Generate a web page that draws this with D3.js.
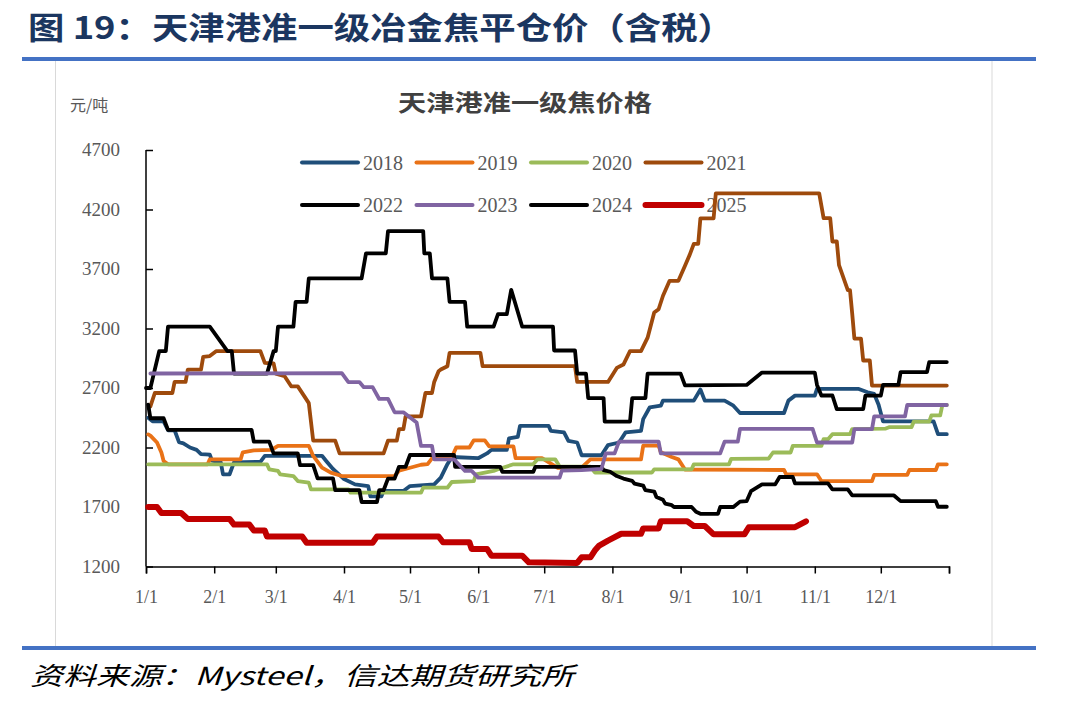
<!DOCTYPE html>
<html><head><meta charset="utf-8">
<script src="https://cdn.jsdelivr.net/npm/d3@7"></script>
<style>body{margin:0;background:#fff}</style>
</head><body>
<svg id="c" width="1086" height="705"></svg>
<script>
// ---- data ----
const years = ["2018","2019","2020","2021","2022","2023","2024","2025"];
const yTicks = [1200,1700,2200,2700,3200,3700,4200,4700];
const xTickLabels = ["1/1","2/1","3/1","4/1","5/1","6/1","7/1","8/1","9/1","10/1","11/1","12/1",""];
const monthStartDays = [0,31,59,90,120,151,181,212,243,273,304,334,365];
// [day of year (0 = 1/1), price yuan/ton]
const s2018 = [[1,2450],[3,2420],[8,2420],[10,2345],[13,2345],[15,2245],[17,2235],[20,2200],[23,2180],[25,2145],[29,2140],[30,2090],[34,2075],[35,1975],[38,1975],[40,2075],[52,2080],[54,2130],[80,2130],[82,2085],[85,2020],[90,1935],[95,1890],[101,1876],[102,1790],[107,1790],[108,1835],[117,1835],[120,1876],[131,1890],[134,1947],[137,2060],[139,2120],[151,2110],[155,2150],[157,2180],[164,2180],[165,2277],[169,2290],[170,2382],[183,2382],[184,2340],[190,2327],[192,2256],[196,2242],[198,2135],[207,2135],[210,2220],[215,2242],[218,2327],[225,2340],[226,2439],[229,2538],[234,2551],[235,2594],[249,2594],[252,2687],[254,2594],[263,2594],[267,2551],[270,2490],[290,2490],[292,2594],[295,2636],[304,2636],[305,2692],[324,2692],[328,2664],[331,2650],[333,2560],[335,2420],[358,2420],[360,2312],[364,2312]];
const s2019 = [[1,2310],[2,2300],[5,2242],[7,2158],[8,2087],[10,2059],[28,2059],[29,2100],[43,2100],[44,2160],[49,2175],[57,2180],[60,2214],[74,2214],[76,2129],[80,2031],[84,1989],[89,1960],[113,1960],[115,2005],[120,2030],[125,2055],[128,2060],[130,2108],[139,2117],[141,2200],[147,2200],[149,2260],[154,2260],[156,2210],[167,2210],[168,2110],[180,2110],[187,2030],[198,2030],[202,2100],[225,2100],[226,2215],[233,2215],[234,2160],[239,2120],[242,2100],[245,2015],[290,2011],[291,1975],[305,1975],[307,1918],[330,1918],[331,1970],[346,1970],[347,2011],[359,2011],[360,2059],[364,2059]];
const s2020 = [[1,2059],[55,2059],[56,2017],[60,2003],[61,1974],[67,1960],[69,1918],[74,1904],[75,1848],[92,1848],[93,1820],[125,1820],[126,1862],[137,1862],[139,1910],[149,1918],[150,1975],[158,2003],[160,2017],[167,2059],[176,2059],[178,2101],[186,2101],[188,2040],[202,2040],[204,1990],[230,1990],[231,2017],[248,2017],[249,2059],[265,2059],[266,2105],[283,2107],[285,2158],[293,2158],[294,2214],[307,2214],[308,2270],[310,2270],[312,2312],[320,2312],[321,2355],[336,2358],[338,2372],[348,2372],[349,2418],[356,2418],[357,2470],[361,2470],[362,2558],[364,2558]];
const s2021 = [[2,2545],[4,2658],[12,2658],[13,2751],[18,2751],[19,2855],[25,2855],[26,2962],[29,2968],[32,3010],[52,3010],[54,2911],[58,2906],[59,2821],[63,2799],[66,2714],[69,2714],[72,2630],[74,2573],[76,2258],[86,2258],[88,2151],[108,2151],[110,2258],[114,2258],[115,2354],[117,2354],[118,2461],[125,2461],[127,2658],[130,2658],[131,2751],[133,2841],[134,2855],[137,2883],[138,2996],[152,2996],[153,2883],[195,2883],[196,2751],[210,2751],[214,2869],[217,2897],[220,3010],[225,3010],[228,3123],[231,3334],[233,3362],[235,3475],[238,3601],[242,3601],[245,3728],[247,3813],[249,3911],[251,3911],[252,4125],[258,4125],[259,4335],[306,4335],[308,4128],[311,4128],[312,3931],[314,3931],[315,3733],[319,3523],[320,3523],[321,3326],[322,3115],[325,3115],[326,2931],[329,2931],[330,2720],[364,2720]];
const s2022 = [[0,2700],[2,2700],[6,3010],[9,3010],[10,3215],[29,3215],[37,3010],[39,3010],[40,2821],[55,2821],[58,3010],[59,3010],[60,3215],[67,3215],[68,3424],[73,3424],[74,3621],[98,3621],[100,3832],[109,3832],[110,4018],[126,4018],[126.5,3832],[129,3832],[130,3621],[137,3621],[138,3424],[145,3424],[146,3215],[158,3215],[160,3320],[164,3320],[166,3525],[171,3215],[185,3215],[185.5,3015],[195,3015],[196,2821],[200,2821],[201,2615],[208,2615],[208.5,2418],[220,2418],[221,2615],[227,2615],[228,2821],[243,2821],[245,2722],[273,2726],[280,2830],[304,2830],[305,2726],[307,2637],[312,2637],[314,2523],[326,2523],[327,2636],[334,2636],[335,2726],[342,2726],[343,2833],[355,2833],[356,2918],[364,2918]];
const s2023 = [[2,2822],[89,2825],[92,2750],[97,2750],[99,2707],[103,2707],[106,2608],[110,2608],[113,2496],[117,2496],[123,2411],[125,2214],[130,2214],[131,2101],[140,2101],[145,2003],[148,2003],[151,1947],[188,1947],[189,2005],[198,2010],[207,2020],[209,2151],[213,2151],[215,2249],[233,2249],[234,2151],[261,2151],[263,2249],[269,2249],[270,2357],[303,2357],[305,2242],[321,2242],[322,2355],[330,2355],[331,2462],[345,2462],[346,2557],[364,2557]];
const s2024 = [[1,2560],[2,2446],[8,2446],[10,2348],[48,2348],[49,2249],[56,2249],[58,2150],[69,2150],[70,2052],[76,2052],[78,1940],[85,1940],[86,1841],[97,1841],[98,1742],[105,1742],[106,1841],[108,1841],[110,1939],[113,1939],[115,2038],[118,2038],[120,2137],[140,2137],[140.5,2038],[161,2038],[162,1995],[176,1995],[177,2038],[207,2038],[208,2010],[211,1996],[214,1960],[217,1939],[221,1920],[222,1897],[226,1880],[227,1841],[231,1830],[232,1784],[235,1760],[236,1728],[239,1715],[240,1700],[248,1700],[250,1660],[252,1643],[260,1643],[261,1700],[267,1700],[270,1745],[273,1749],[275,1833],[280,1890],[286,1890],[288,1952],[294,1952],[295,1898],[310,1898],[312,1848],[319,1848],[321,1797],[340,1797],[343,1749],[359,1749],[360,1702],[364,1702]];
const s2025 = [[1,1700],[5,1700],[7,1650],[16,1650],[19,1600],[38,1600],[40,1552],[47,1552],[49,1503],[54,1503],[55,1452],[71,1452],[73,1400],[103,1400],[105,1452],[133,1452],[135,1404],[147,1404],[148,1348],[155,1348],[157,1291],[171,1291],[174,1235],[196,1230],[198,1277],[202,1277],[204,1334],[206,1376],[210,1418],[216,1475],[225,1475],[226,1520],[233,1520],[234,1580],[246,1580],[249,1540],[254,1540],[258,1470],[272,1470],[274,1530],[295,1530],[300,1580]];
const seriesData = [s2018,s2019,s2020,s2021,s2022,s2023,s2024,s2025];
const colors = ["#1F4E79","#E97217","#9BBB59","#9E4A0C","#000000","#8064A2","#000000","#C00000"];
const widths = [3.8,3.8,3.8,3.8,3.8,3.8,3.8,6];

// ---- drawing ----
const svg = d3.select("#c");
const base = Date.UTC(2021,0,1);
const toDate = d => new Date(base + d*864e5);
const x = d3.scaleUtc().domain([toDate(0), toDate(365)]).range([146, 949]);
const y = d3.scaleLinear().domain([1200, 4700]).range([566.5, 150]);
const serif = "'Liberation Serif','Times New Roman',serif";
const cjk = "'Noto Sans CJK SC','Noto Sans CJK JP',sans-serif";

// page title and rules
svg.append("text").attr("x",28).attr("y",39).attr("font-family",cjk).attr("font-weight",700)
  .attr("font-size",31).attr("fill","#1B3660").attr("textLength",706).attr("lengthAdjust","spacingAndGlyphs")
  .text("图 19：天津港准一级冶金焦平仓价（含税）");
svg.append("rect").attr("x",55.5).attr("y",60).attr("width",936.5).attr("height",588)
  .attr("fill","none").attr("stroke","#D9D9D9").attr("stroke-width",1);
svg.append("rect").attr("x",22).attr("y",57).attr("width",1014).attr("height",4).attr("fill","#4472C4");
svg.append("rect").attr("x",22).attr("y",646).attr("width",1014).attr("height",4).attr("fill","#4472C4");
svg.append("text").attr("x",30).attr("y",685).attr("font-family",cjk).attr("font-style","italic")
  .attr("font-size",25).attr("fill","#000").attr("textLength",544).attr("lengthAdjust","spacingAndGlyphs")
  .text("资料来源：Mysteel，信达期货研究所");

// chart title & unit
svg.append("text").attr("x",398).attr("y",111).attr("font-family",cjk).attr("font-weight",700)
  .attr("font-size",23).attr("fill","#404040").attr("textLength",254).attr("lengthAdjust","spacingAndGlyphs")
  .text("天津港准一级焦价格");
svg.append("text").attr("x",70).attr("y",111).attr("font-family",cjk)
  .attr("font-size",16).attr("fill","#595959").text("元/吨");

// axes
const yAxis = svg.append("g").attr("transform","translate(146,0)")
  .call(d3.axisRight(y).tickValues(yTicks).tickSize(7).tickFormat(""));
yAxis.select(".domain").attr("stroke","#000").attr("stroke-width",1.5).attr("d","M0,150V566.5");
yAxis.selectAll(".tick line").attr("stroke","#000").attr("stroke-width",1.5);
svg.append("g").selectAll("text").data(yTicks).join("text")
  .attr("x",120).attr("y",d=>y(d)+6).attr("text-anchor","end")
  .attr("font-family",serif).attr("font-size",19).attr("fill","#595959").text(d=>d);

const xAxis = svg.append("g").attr("transform","translate(0,566.5)")
  .call(d3.axisBottom(x).tickValues(monthStartDays.map(toDate)).tickSizeOuter(0).tickSize(7)
    .tickFormat((d,i)=>xTickLabels[i]));
xAxis.select(".domain").attr("stroke","#000").attr("stroke-width",1.5);
xAxis.selectAll(".tick line").attr("stroke","#000").attr("stroke-width",1.5);
xAxis.selectAll(".tick text").attr("font-family",serif).attr("font-size",18).attr("fill","#595959").attr("dy","1.45em");

// legend
const leg = svg.append("g");
years.forEach((yr,i)=>{
  const col = i%4, row = Math.floor(i/4);
  const lx = 302 + col*114.5, ly = 162.5 + row*42.5;
  leg.append("line").attr("x1",lx).attr("x2",lx+56).attr("y1",ly).attr("y2",ly)
    .attr("stroke",colors[i]).attr("stroke-width",i===7?6:4).attr("stroke-linecap","round");
  leg.append("text").attr("x",lx+61).attr("y",ly+7).attr("font-family",serif).attr("font-size",20)
    .attr("fill","#595959").text(yr);
});

// lines
const line = d3.line().x(p=>x(toDate(p[0]))).y(p=>y(p[1]));
const order = [0,1,2,3,4,6,5,7];
order.forEach(i=>{
  svg.append("path").attr("d",line(seriesData[i])).attr("fill","none")
    .attr("stroke",colors[i]).attr("stroke-width",widths[i]).attr("stroke-linejoin","round")
    .attr("stroke-linecap","round");
});
</script>
</body></html>
